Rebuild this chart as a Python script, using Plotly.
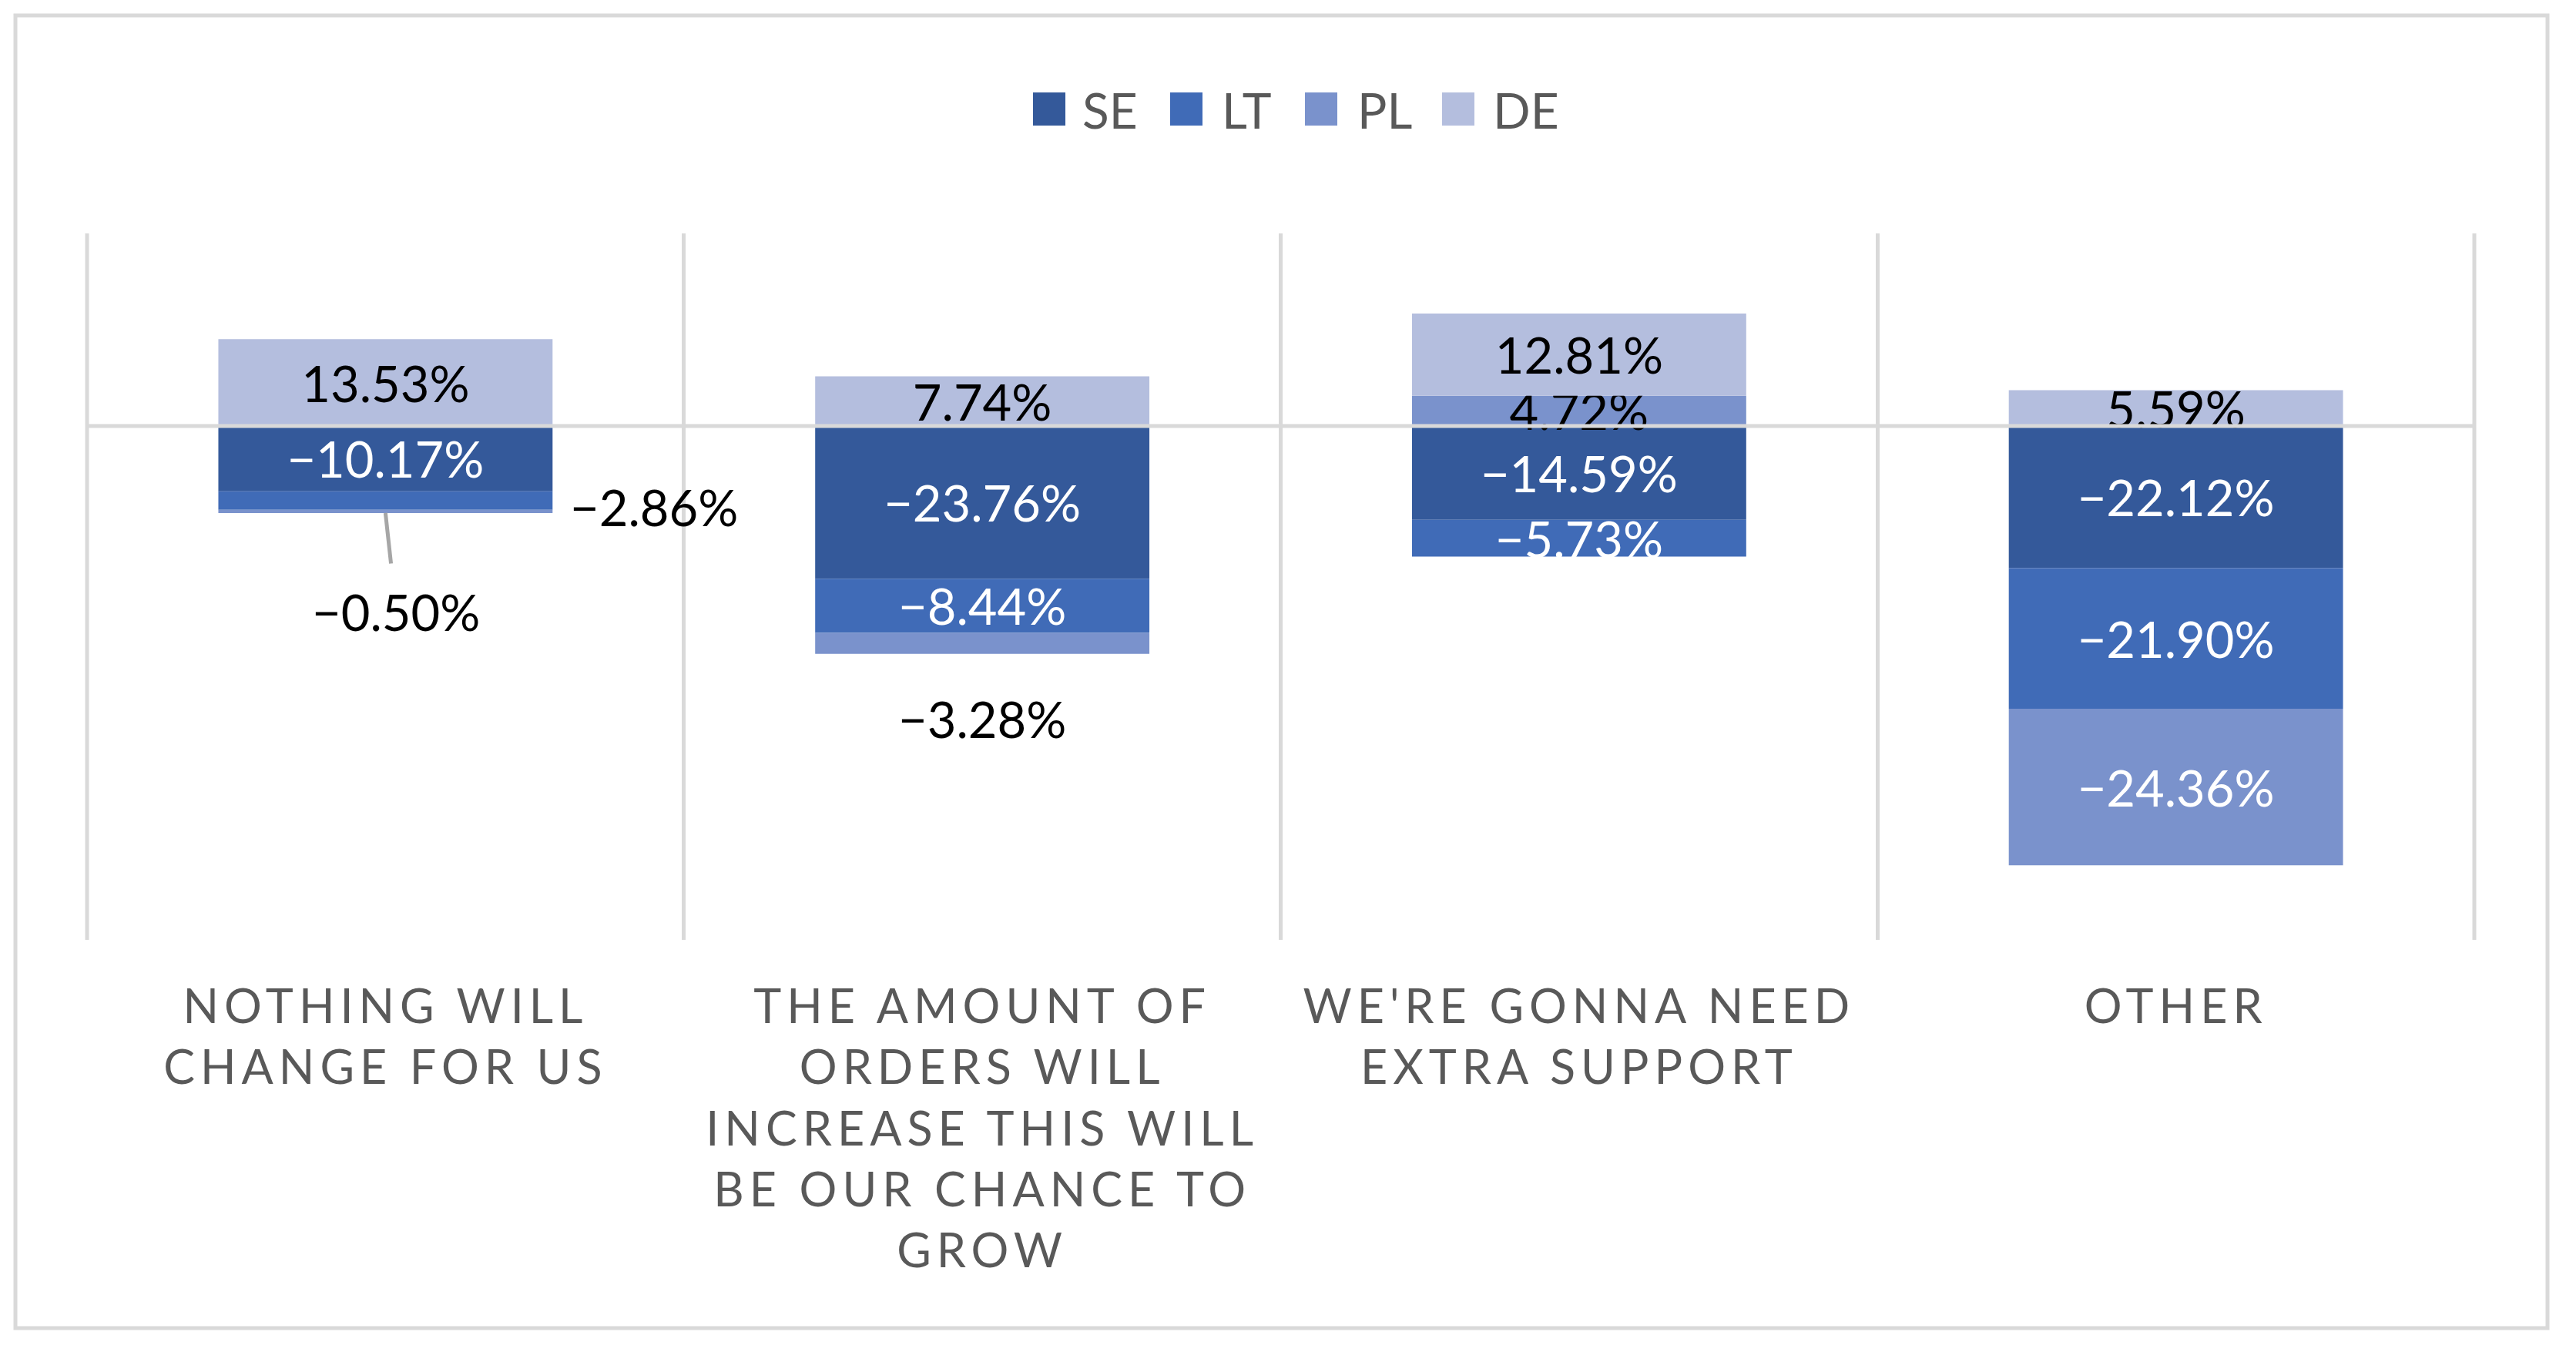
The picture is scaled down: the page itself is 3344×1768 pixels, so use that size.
import plotly.graph_objects as go

# ---------------- data ----------------
categories = [
    "NOTHING WILL<br>CHANGE FOR US",
    "THE AMOUNT OF<br>ORDERS WILL<br>INCREASE THIS WILL<br>BE OUR CHANCE TO<br>GROW",
    "WE'RE GONNA NEED<br>EXTRA SUPPORT",
    "OTHER",
]
series_names = ["SE", "LT", "PL", "DE"]
se_values = [-10.17, -23.76, -14.59, -22.12]
lt_values = [-2.86, -8.44, -5.73, -21.90]
pl_values = [-0.50, -3.28, 4.72, -24.36]
de_values = [13.53, 7.74, 12.81, 5.59]

series_colors = ["#34599A", "#406BB7", "#7A92CC", "#B4BEDE"]

# ---------------- geometry helpers (layout only) ----------------
W, H = 3344, 1768
L, R, T, B = 113, 3212, 303, 1220
PW, PH = R - L, B - T


def px_x(x):
    return (x - L) / PW


def px_y(y):
    return (B - y) / PH


def fmt(v):
    return f"{v:.2f}%".replace("-", "\u2212")


FONT = "Lato"
GRID = "#D9D9D9"

fig = go.Figure()

values = [se_values, lt_values, pl_values, de_values]
label_colors = [
    ["white"] * 4,
    ["white"] * 4,
    ["white", "white", "black", "white"],
    ["black"] * 4,
]
hide_inbar = {(1, 0), (2, 0), (2, 1)}  # labels drawn as callouts instead

for si, (name, vals, col) in enumerate(zip(series_names, values, series_colors)):
    texts = ["" if (si, ci) in hide_inbar else fmt(v) for ci, v in enumerate(vals)]
    fig.add_trace(go.Bar(
        name=name,
        x=categories,
        y=vals,
        marker=dict(color=col, line=dict(width=0)),
        text=texts,
        texttemplate="%{text}",
        textposition="inside",
        insidetextanchor="middle",
        constraintext="none",
        textangle=0,
        textfont=dict(family=FONT, size=65, color=label_colors[si]),
        showlegend=False,
        hoverinfo="x+y+name",
    ))

annotations = []
# LT label for first category, right of bar
annotations.append(dict(
    x=categories[0], y=se_values[0] + lt_values[0] / 2, xref="x", yref="y",
    text=fmt(lt_values[0]), showarrow=False, xanchor="left", yanchor="middle",
    xshift=238, yshift=-8, font=dict(family=FONT, size=65, color="black"),
))
# PL label for first category, below with leader line
annotations.append(dict(
    x=categories[0], y=se_values[0] + lt_values[0] + pl_values[0], xref="x", yref="y",
    text=fmt(pl_values[0]), showarrow=True, arrowhead=0, arrowwidth=5,
    arrowcolor="#A6A6A6", ax=14, ay=128, startstandoff=22,
    font=dict(family=FONT, size=65, color="black"),
))
# PL label for second category, below the bar
annotations.append(dict(
    x=categories[1], y=se_values[1] + lt_values[1] + pl_values[1], xref="x", yref="y",
    text=fmt(pl_values[1]), showarrow=False, xanchor="center", yanchor="middle",
    yshift=-84, font=dict(family=FONT, size=65, color="black"),
))

# manual legend (large square swatches)
legend_items = [(1341, 1403), (1519, 1584), (1694, 1760), (1872, 1936)]
shapes = []
for (sq_x, tx_x), name, col in zip(legend_items, series_names, series_colors):
    shapes.append(dict(type="rect", xref="paper", yref="paper",
                       x0=px_x(sq_x), x1=px_x(sq_x + 42),
                       y0=px_y(163), y1=px_y(120),
                       fillcolor=col, line=dict(width=0)))
    annotations.append(dict(x=px_x(tx_x), y=px_y(142), xref="paper", yref="paper",
                            text=name, showarrow=False, xanchor="left", yanchor="middle",
                            font=dict(family=FONT, size=64, color="#595959")))

# outer category boundary gridlines (plot edges)
for xe in (0, 1):
    shapes.append(dict(type="line", xref="paper", yref="paper", x0=xe, x1=xe, y0=0, y1=1,
                       line=dict(color=GRID, width=5), layer="below"))
# zero line above bars
shapes.append(dict(type="line", xref="paper", yref="y", x0=0, x1=1, y0=0, y1=0,
                   line=dict(color=GRID, width=5), layer="above"))
# outer chart border
shapes.append(dict(type="rect", xref="paper", yref="paper",
                   x0=px_x(20), x1=px_x(3307), y0=px_y(1724), y1=px_y(20),
                   line=dict(color=GRID, width=5), fillcolor="rgba(0,0,0,0)",
                   layer="below"))

fig.update_layout(
    width=W, height=H,
    margin=dict(l=L, r=W - R, t=T, b=H - B, autoexpand=False),
    barmode="relative",
    bargap=0.44,
    plot_bgcolor="white",
    paper_bgcolor="white",
    showlegend=False,
    annotations=annotations,
    shapes=shapes,
    font=dict(family=FONT, color="#595959"),
    xaxis=dict(
        type="category",
        tickson="boundaries",
        showgrid=True, gridcolor=GRID, gridwidth=5,
        showline=False, zeroline=False, ticks="",
        tickangle=0,
        tickfont=dict(family=FONT, size=61, color="#595959"),
        ticklabelstandoff=46,
        automargin=False,
    ),
    yaxis=dict(
        range=[-80, 30],
        showgrid=False, zeroline=False, showticklabels=False, ticks="",
        showline=False, automargin=False,
    ),
)

post = """
document.body.style.margin = '0';
var gd = document.getElementById('{plot_id}');
gd.querySelectorAll('.xtick text').forEach(function(t){ t.style.letterSpacing = '7px'; });
"""
fig.write_html("out.html", post_script=post, config={"displayModeBar": False})
